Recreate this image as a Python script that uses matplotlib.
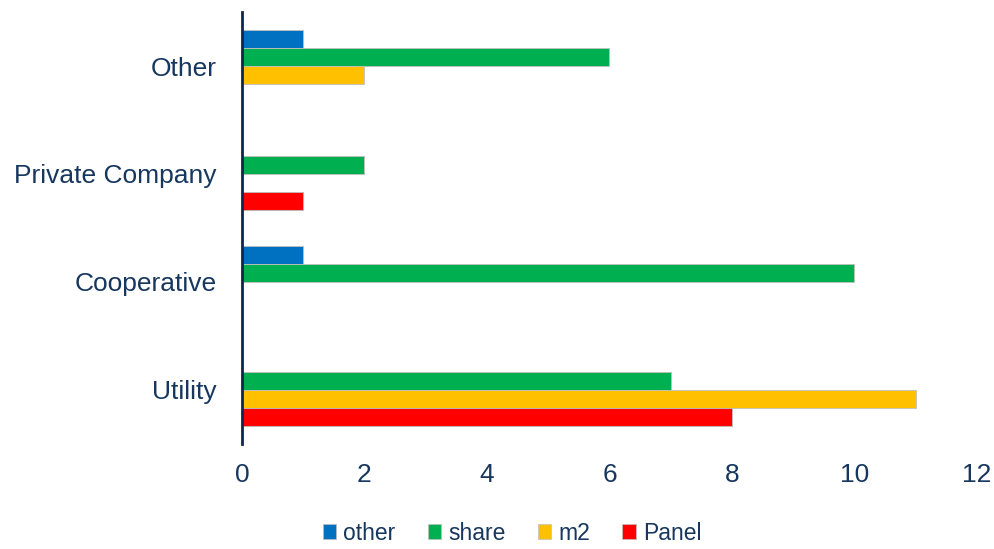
import numpy as np
import matplotlib.pyplot as plt
from matplotlib.patches import Patch

# ==== data ====
categories = ['Utility', 'Cooperative', 'Private Company', 'Other']
series = ['other', 'share', 'm2', 'Panel']
other_vals = [0, 1, 0, 1]
share_vals = [7, 10, 2, 6]
m2_vals = [11, 0, 0, 2]
panel_vals = [8, 0, 1, 0]
x_ticks = [0, 2, 4, 6, 8, 10, 12]

colors = ['#0070C0', '#00B050', '#FFC000', '#FF0000']
txt = '#17375E'

plt.rcParams['font.family'] = ['Liberation Sans', 'DejaVu Sans']

fig = plt.figure(figsize=(9.95, 5.49), dpi=100)
ax = fig.add_axes([242 / 995, 1 - 444 / 549, (977 - 242) / 995, (444 - 12) / 549])

y = np.arange(len(categories))
h = 0.1667
all_vals = [other_vals, share_vals, m2_vals, panel_vals]
# top to bottom within group: other, share, m2, Panel
for i, (vals, c) in enumerate(zip(all_vals, colors)):
    offs = (1.5 - i) * h
    ax.barh(y + offs, vals, height=h, color=c, edgecolor='#BFBFBF', linewidth=0.6)

ax.set_ylim(-0.5, len(categories) - 0.5)
ax.set_xlim(0, 12)
ax.set_yticks(y)
ax.set_yticklabels(categories, fontsize=19, color=txt)
ax.set_xticks(x_ticks)
ax.set_xticklabels([str(t) for t in x_ticks], fontsize=19, color=txt)
ax.tick_params(axis='y', length=0, pad=18)
ax.tick_params(axis='x', length=0, pad=14)

for s in ['top', 'right', 'bottom']:
    ax.spines[s].set_visible(False)
ax.spines['left'].set_color('#0F2748')
ax.spines['left'].set_linewidth(2)

handles = [Patch(facecolor=c, edgecolor='#BFBFBF', linewidth=0.5) for c in colors]
fig.legend(handles, series, loc='center', bbox_to_anchor=(512 / 995, 1 - 533 / 549),
           ncol=4, frameon=False, fontsize=16.5, handlelength=0.6, handleheight=0.6,
           handletextpad=0.3, columnspacing=1.4, labelcolor=txt)

fig.savefig('out.png', dpi=100)
